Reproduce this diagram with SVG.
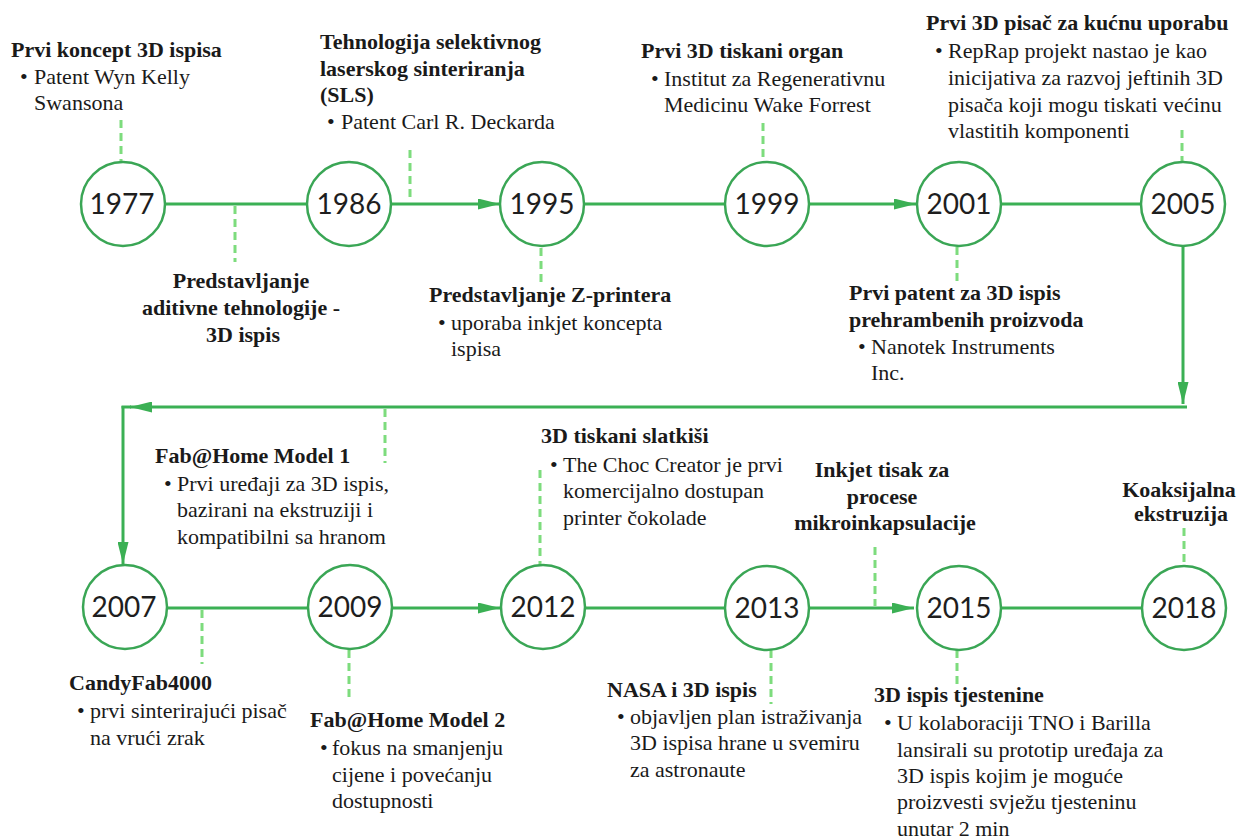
<svg xmlns="http://www.w3.org/2000/svg" width="1239" height="840" viewBox="0 0 1239 840">
<defs>
<style>
.ln{stroke:#3bb054;stroke-width:3;fill:none}
.ds{stroke:#7ddc7d;stroke-width:3;stroke-dasharray:8 5;fill:none}
.cc{fill:#fff;stroke:#3aa655;stroke-width:2.5}
.yr{font-family:Lato,sans-serif;font-size:28px;fill:#1e1e1e;text-anchor:middle}
.t{font-size:22px;font-weight:bold;fill:#1a1a1a}
.b{font-size:22px;fill:#1a1a1a}
.c{text-anchor:middle}
</style>
<marker id="ah" markerUnits="userSpaceOnUse" markerWidth="22" markerHeight="11" refX="22" refY="5.5" orient="auto">
<path d="M0,0 L22,5.5 L0,11 z" fill="#3bb054"/>
</marker>
</defs>
<rect width="1239" height="840" fill="#fff"/>
<g id="connectors">
<line class="ln" x1="165" y1="204" x2="307" y2="204"/>
<line class="ln" x1="391" y1="204" x2="500" y2="204" marker-end="url(#ah)"/>
<line class="ln" x1="584" y1="204" x2="725" y2="204"/>
<line class="ln" x1="809" y1="204" x2="916" y2="204" marker-end="url(#ah)"/>
<line class="ln" x1="1001" y1="204" x2="1141" y2="204"/>
<line class="ln" x1="1183" y1="246" x2="1183" y2="404" marker-end="url(#ah)"/>
<line class="ln" x1="1187" y1="407" x2="130" y2="407" marker-end="url(#ah)"/>
<line class="ln" x1="131" y1="407" x2="121.5" y2="407"/>
<line class="ln" x1="123" y1="406" x2="123" y2="564" marker-end="url(#ah)"/>
<line class="ln" x1="167" y1="608" x2="308" y2="608"/>
<line class="ln" x1="392" y1="608" x2="500" y2="608" marker-end="url(#ah)"/>
<line class="ln" x1="585" y1="608" x2="725" y2="608"/>
<line class="ln" x1="809" y1="608" x2="914" y2="608" marker-end="url(#ah)"/>
<line class="ln" x1="1001" y1="608" x2="1142" y2="608"/>
<line class="ds" x1="121" y1="120" x2="121" y2="162"/>
<line class="ds" x1="235" y1="206" x2="235" y2="262"/>
<line class="ds" x1="410" y1="150" x2="410" y2="202"/>
<line class="ds" x1="541" y1="248" x2="541" y2="284"/>
<line class="ds" x1="763" y1="123" x2="763" y2="162"/>
<line class="ds" x1="957" y1="247" x2="957" y2="284"/>
<line class="ds" x1="1182" y1="130" x2="1182" y2="162"/>
<line class="ds" x1="385" y1="409" x2="385" y2="463"/>
<line class="ds" x1="540" y1="470" x2="540" y2="566"/>
<line class="ds" x1="875" y1="547" x2="875" y2="606"/>
<line class="ds" x1="1184" y1="528" x2="1184" y2="566"/>
<line class="ds" x1="202" y1="610" x2="202" y2="664"/>
<line class="ds" x1="349" y1="650" x2="349" y2="702"/>
<line class="ds" x1="771" y1="650" x2="771" y2="704"/>
<line class="ds" x1="957" y1="650" x2="957" y2="686"/>
</g>
<g id="n1977"><circle class="cc" cx="123" cy="204" r="42"/><text class="yr" x="122" y="214">1977</text></g>
<g id="n1986"><circle class="cc" cx="349" cy="204" r="42"/><text class="yr" x="349" y="214">1986</text></g>
<g id="n1995"><circle class="cc" cx="542" cy="204" r="42"/><text class="yr" x="542" y="214">1995</text></g>
<g id="n1999"><circle class="cc" cx="767" cy="204" r="42"/><text class="yr" x="767" y="214">1999</text></g>
<g id="n2001"><circle class="cc" cx="959" cy="204" r="42"/><text class="yr" x="959" y="214">2001</text></g>
<g id="n2005"><circle class="cc" cx="1183" cy="204" r="42"/><text class="yr" x="1183" y="214">2005</text></g>
<g id="n2007"><circle class="cc" cx="125" cy="607" r="42"/><text class="yr" x="124" y="617">2007</text></g>
<g id="n2009"><circle class="cc" cx="350" cy="607" r="42"/><text class="yr" x="350" y="617">2009</text></g>
<g id="n2012"><circle class="cc" cx="543" cy="607" r="42"/><text class="yr" x="543" y="617">2012</text></g>
<g id="n2013"><circle class="cc" cx="767" cy="608" r="42"/><text class="yr" x="767" y="618">2013</text></g>
<g id="n2015"><circle class="cc" cx="959" cy="608" r="42"/><text class="yr" x="959" y="618">2015</text></g>
<g id="n2018"><circle class="cc" cx="1184" cy="608" r="42"/><text class="yr" x="1184" y="618">2018</text></g>
<g id="labels" font-family="Liberation Serif, Times New Roman, serif">
<g id="l1977">
<text class="t" x="11" y="57">Prvi koncept 3D ispisa</text>
<text class="b" x="20" y="84">•</text><text class="b" x="34" y="84">Patent Wyn Kelly</text>
<text class="b" x="34" y="110">Swansona</text>
</g>
<g id="l1977b">
<text class="t c" x="241" y="288">Predstavljanje</text>
<text class="t c" x="241" y="315">aditivne tehnologije -</text>
<text class="t c" x="243" y="342">3D ispis</text>
</g>
<g id="l1986">
<text class="t" x="320" y="49">Tehnologija selektivnog</text>
<text class="t" x="320" y="76">laserskog sinteriranja</text>
<text class="t" x="320" y="102">(SLS)</text>
<text class="b" x="327" y="129">•</text><text class="b" x="341" y="129">Patent Carl R. Deckarda</text>
</g>
<g id="l1995">
<text class="t" x="429" y="302">Predstavljanje Z-printera</text>
<text class="b" x="438" y="330">•</text><text class="b" x="451" y="330">uporaba inkjet koncepta</text>
<text class="b" x="451" y="356">ispisa</text>
</g>
<g id="l1999">
<text class="t" x="641" y="58">Prvi 3D tiskani organ</text>
<text class="b" x="651" y="86">•</text><text class="b" x="664" y="86">Institut za Regenerativnu</text>
<text class="b" x="664" y="112">Medicinu Wake Forrest</text>
</g>
<g id="l2001">
<text class="t" x="849" y="300">Prvi patent za 3D ispis</text>
<text class="t" x="849" y="327">prehrambenih proizvoda</text>
<text class="b" x="858" y="354">•</text><text class="b" x="871" y="354">Nanotek Instruments</text>
<text class="b" x="871" y="380">Inc.</text>
</g>
<g id="l2005">
<text class="t" x="926" y="30">Prvi 3D pisač za kućnu uporabu</text>
<text class="b" x="935" y="58">•</text><text class="b" x="948" y="58">RepRap projekt nastao je kao</text>
<text class="b" x="948" y="85">inicijativa za razvoj jeftinih 3D</text>
<text class="b" x="948" y="112">pisača koji mogu tiskati većinu</text>
<text class="b" x="948" y="138">vlastitih komponenti</text>
</g>
<g id="l2007a">
<text class="t" x="155" y="463">Fab@Home Model 1</text>
<text class="b" x="164" y="491">•</text><text class="b" x="177" y="491">Prvi uređaji za 3D ispis,</text>
<text class="b" x="177" y="517">bazirani na ekstruziji i</text>
<text class="b" x="177" y="544">kompatibilni sa hranom</text>
</g>
<g id="l2007b">
<text class="t" x="69" y="690">CandyFab4000</text>
<text class="b" x="77" y="718">•</text><text class="b" x="90" y="718">prvi sinterirajući pisač</text>
<text class="b" x="90" y="745">na vrući zrak</text>
</g>
<g id="l2009">
<text class="t" x="310" y="727">Fab@Home Model 2</text>
<text class="b" x="320" y="755">•</text><text class="b" x="332" y="755">fokus na smanjenju</text>
<text class="b" x="332" y="782">cijene i povećanju</text>
<text class="b" x="332" y="808">dostupnosti</text>
</g>
<g id="l2012">
<text class="t" x="541" y="443">3D tiskani slatkiši</text>
<text class="b" x="550" y="472">•</text><text class="b" x="563" y="472">The Choc Creator je prvi</text>
<text class="b" x="563" y="498">komercijalno dostupan</text>
<text class="b" x="563" y="525">printer čokolade</text>
</g>
<g id="l2013">
<text class="t" x="607" y="697">NASA i 3D ispis</text>
<text class="b" x="617" y="724">•</text><text class="b" x="630" y="724">objavljen plan istraživanja</text>
<text class="b" x="630" y="750">3D ispisa hrane u svemiru</text>
<text class="b" x="630" y="777">za astronaute</text>
</g>
<g id="l2013b">
<text class="t c" x="882" y="477">Inkjet tisak za</text>
<text class="t c" x="882" y="504">procese</text>
<text class="t c" x="885" y="530">mikroinkapsulacije</text>
</g>
<g id="l2015">
<text class="t" x="874" y="702">3D ispis tjestenine</text>
<text class="b" x="884" y="730">•</text><text class="b" x="897" y="730">U kolaboraciji TNO i Barilla</text>
<text class="b" x="897" y="757">lansirali su prototip uređaja za</text>
<text class="b" x="897" y="783">3D ispis kojim je moguće</text>
<text class="b" x="897" y="809">proizvesti svježu tjesteninu</text>
<text class="b" x="897" y="836">unutar 2 min</text>
</g>
<g id="l2018">
<text class="t c" x="1179" y="497">Koaksijalna</text>
<text class="t c" x="1181" y="521">ekstruzija</text>
</g>
</g>
</svg>
